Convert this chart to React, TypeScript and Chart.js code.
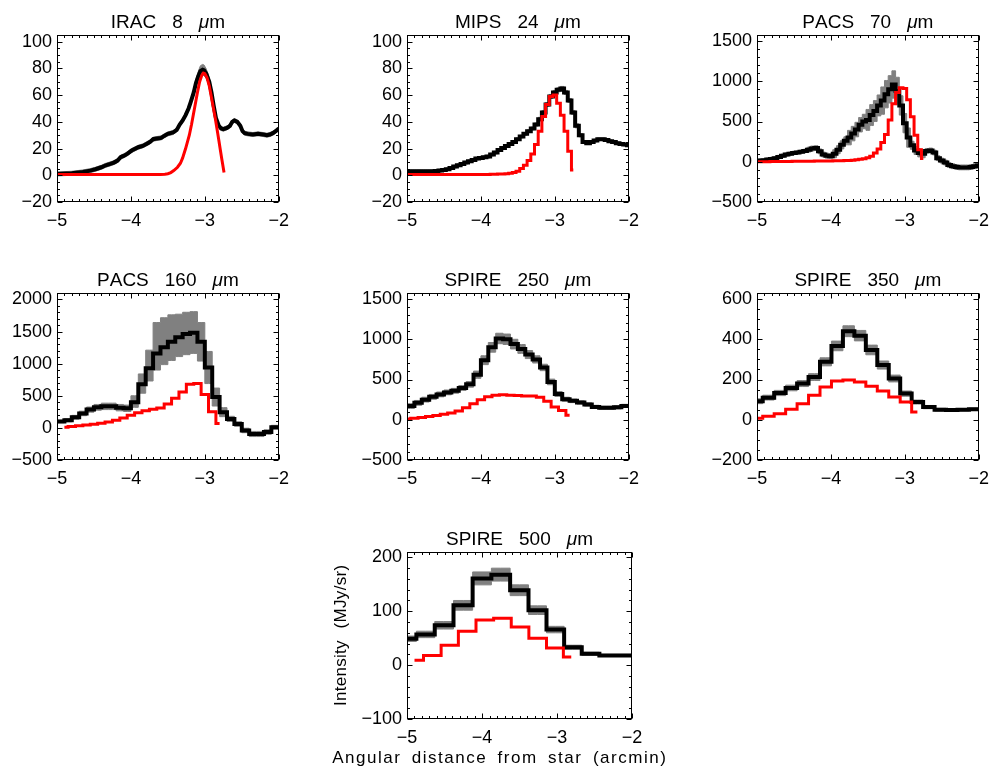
import React, { useEffect, useRef } from "react";
import { Chart, registerables } from "chart.js";

Chart.register(...registerables);

const FONT = "'Liberation Sans', Arial, Helvetica, sans-serif";
const GRAY = "#808080";
const RED = "#ff0000";

// ---------------- data ----------------
const xTicks = [-5, -4, -3, -2];
const unitWord = "m"; // preceded by italic mu

// IRAC 8 um
const iracTitle = ["IRAC", "8"];
const iracYTicks = [-20, 0, 20, 40, 60, 80, 100];
const iracX = [-5.0, -4.8, -4.65, -4.55, -4.48, -4.4, -4.34, -4.28, -4.23, -4.18, -4.14, -4.1, -4.05, -3.99, -3.9, -3.84, -3.79, -3.74, -3.7, -3.65, -3.59, -3.55, -3.5, -3.43, -3.38, -3.34, -3.3, -3.26, -3.22, -3.19, -3.15, -3.12, -3.09, -3.06, -3.03, -3.01, -2.98, -2.94, -2.91, -2.88, -2.85, -2.81, -2.78, -2.75, -2.7, -2.66, -2.63, -2.6, -2.56, -2.52, -2.49, -2.46, -2.42, -2.35, -2.28, -2.21, -2.16, -2.12, -2.08, -2.04, -2.0];
const iracBlack = [1, 1.5, 2.5, 3.5, 4.5, 6, 7.5, 8.5, 9.5, 11, 13.5, 14.5, 16, 18.5, 21, 22, 23.5, 25, 27, 27.5, 28, 29.5, 31, 32, 34, 38, 41, 45, 50, 55, 62, 69, 74, 78, 79, 78.5, 76, 70, 62, 52, 43, 37, 35, 34.5, 35.5, 37, 40, 41, 40, 37, 33, 31.5, 31, 30.5, 31, 30.5, 30, 30.5, 31.5, 33, 35];
const iracErr = [1.5, 1.5, 1.5, 1.5, 1.5, 1.5, 1.5, 1.5, 1.5, 1.5, 1.5, 1.5, 1.5, 1.5, 1.5, 1.5, 1.5, 1.5, 1.5, 1.5, 1.5, 1.5, 1.5, 1.5, 1.5, 1.5, 1.5, 1.5, 1.5, 1.5, 2.5, 3, 3.5, 4, 4, 4, 3.5, 3, 2.5, 2, 1.5, 1.5, 1.5, 1.5, 1.5, 1.5, 1.5, 1.5, 1.5, 1.5, 1.5, 1.5, 1.5, 1.5, 1.5, 1.5, 1.5, 1.5, 1.5, 1.5, 1.5];
const iracRedX = [-5.0, -4.5, -4.0, -3.7, -3.6, -3.54, -3.5, -3.46, -3.42, -3.37, -3.33, -3.3, -3.26, -3.21, -3.18, -3.15, -3.12, -3.1, -3.07, -3.04, -3.02, -3.0, -2.97, -2.94, -2.92, -2.89, -2.86, -2.83, -2.81, -2.79, -2.77, -2.74];
const iracRed = [0.5, 0.5, 0.5, 0.5, 0.6, 0.8, 1.2, 2, 3.5, 6, 9, 13, 20, 30, 38, 47, 56, 62, 70, 75, 76.5, 76, 73, 67, 61, 52, 43, 33, 26, 19, 12, 2];

// MIPS 24 um
const mipsTitle = ["MIPS", "24"];
const mipsYTicks = [-20, 0, 20, 40, 60, 80, 100];
const mipsX = [-5.0, -4.95, -4.9, -4.85, -4.8, -4.75, -4.7, -4.65, -4.6, -4.55, -4.5, -4.45, -4.4, -4.35, -4.3, -4.25, -4.2, -4.15, -4.1, -4.05, -4.0, -3.95, -3.9, -3.85, -3.8, -3.75, -3.7, -3.65, -3.6, -3.55, -3.5, -3.45, -3.4, -3.35, -3.3, -3.25, -3.2, -3.15, -3.1, -3.05, -3.0, -2.95, -2.9, -2.85, -2.8, -2.75, -2.7, -2.65, -2.6, -2.55, -2.5, -2.45, -2.4, -2.35, -2.3, -2.25, -2.2, -2.15, -2.1, -2.05, -2.0];
const mipsBlack = [3, 3, 3, 3, 3, 3, 3, 3, 3.2, 3.5, 4, 4.5, 5.5, 6.5, 7.5, 8.5, 9.5, 10.5, 11.5, 12.5, 13, 13.5, 14, 15.5, 17, 19, 20.5, 22, 23.5, 25, 27, 29, 31, 33, 35, 38, 42, 47, 53, 59, 62, 64, 65, 62, 56, 47, 37, 30, 25, 24, 25, 26, 27, 27, 26.5, 25.5, 25, 24, 23.5, 23, 22.5];
const mipsErr = [1, 1, 1, 1, 1, 1, 1, 1, 1, 1, 1, 1, 1, 1, 1, 1, 1, 1, 1, 1, 1, 1, 1, 1, 1, 1, 1, 1, 1, 1, 1, 1, 1, 1, 1, 1.2, 1.4, 1.5, 1.5, 1.5, 1.5, 1.5, 1.5, 1.5, 1.5, 1.5, 1.5, 1.2, 1, 1, 1, 1, 1, 1, 1, 1, 1, 1, 1, 1, 1];
const mipsRedX = [-5.0, -4.95, -4.9, -4.85, -4.8, -4.75, -4.7, -4.65, -4.6, -4.55, -4.5, -4.45, -4.4, -4.35, -4.3, -4.25, -4.2, -4.15, -4.1, -4.05, -4.0, -3.95, -3.9, -3.85, -3.8, -3.75, -3.7, -3.65, -3.6, -3.55, -3.5, -3.45, -3.4, -3.35, -3.3, -3.25, -3.2, -3.15, -3.1, -3.05, -3.0, -2.95, -2.9, -2.85, -2.8, -2.75];
const mipsRed = [0.5, 0.5, 0.5, 0.5, 0.5, 0.5, 0.5, 0.5, 0.5, 0.5, 0.5, 0.5, 0.5, 0.5, 0.5, 0.5, 0.5, 0.5, 0.5, 0.5, 0.5, 0.6, 0.6, 0.7, 0.8, 0.9, 1, 1.2, 1.5, 2, 3, 5, 7.5, 11, 16, 23, 33, 44, 53, 59, 60, 54, 45, 33, 18, 4];

// PACS 70 um
const p70Title = ["PACS", "70"];
const p70YTicks = [-500, 0, 500, 1000, 1500];
const p70X = [-5.0, -4.95, -4.9, -4.85, -4.8, -4.75, -4.7, -4.65, -4.6, -4.55, -4.5, -4.45, -4.4, -4.35, -4.3, -4.25, -4.2, -4.15, -4.1, -4.05, -4.0, -3.95, -3.9, -3.85, -3.8, -3.75, -3.7, -3.65, -3.6, -3.55, -3.5, -3.45, -3.4, -3.35, -3.3, -3.25, -3.2, -3.15, -3.1, -3.05, -3.0, -2.95, -2.9, -2.85, -2.8, -2.75, -2.7, -2.65, -2.6, -2.55, -2.5, -2.45, -2.4, -2.35, -2.3, -2.25, -2.2, -2.15, -2.1, -2.05, -2.0];
const p70Black = [10, 15, 20, 27, 35, 45, 60, 75, 90, 100, 110, 115, 125, 135, 150, 165, 170, 130, 90, 75, 70, 100, 150, 210, 260, 300, 350, 400, 460, 500, 520, 580, 630, 700, 760, 840, 900, 960, 880, 700, 480, 300, 205, 140, 110, 100, 135, 140, 115, 45, 15, -10, -40, -55, -65, -70, -70, -70, -65, -55, -45];
const p70Err = [20, 20, 20, 20, 20, 20, 20, 20, 20, 20, 20, 20, 20, 20, 30, 30, 30, 30, 30, 30, 30, 50, 50, 50, 50, 90, 90, 90, 90, 90, 130, 130, 130, 130, 170, 170, 170, 170, 170, 120, 120, 120, 50, 50, 50, 50, 30, 30, 30, 30, 30, 30, 30, 30, 30, 30, 30, 30, 30, 30, 30];
const p70RedX = [-5.0, -4.95, -4.9, -4.85, -4.8, -4.75, -4.7, -4.65, -4.6, -4.55, -4.5, -4.45, -4.4, -4.35, -4.3, -4.25, -4.2, -4.15, -4.1, -4.05, -4.0, -3.95, -3.9, -3.85, -3.8, -3.75, -3.7, -3.65, -3.6, -3.55, -3.5, -3.45, -3.4, -3.35, -3.3, -3.25, -3.2, -3.15, -3.1, -3.05, -3.0, -2.95, -2.9, -2.85, -2.8, -2.75];
const p70Red = [0, 0, 1, 1, 2, 2, 3, 3, 4, 4, 5, 5, 6, 6, 7, 7, 8, 8, 9, 9, 10, 11, 12, 13, 15, 17, 20, 24, 30, 38, 50, 70, 110, 160, 240, 340, 520, 720, 860, 920, 910, 770, 560, 330, 150, 40];

// PACS 160 um
const p160Title = ["PACS", "160"];
const p160YTicks = [-500, 0, 500, 1000, 1500, 2000];
const p160X = [-5.05, -4.95, -4.85, -4.75, -4.65, -4.55, -4.45, -4.35, -4.25, -4.15, -4.05, -3.95, -3.85, -3.75, -3.65, -3.55, -3.45, -3.35, -3.25, -3.15, -3.05, -2.95, -2.85, -2.75, -2.65, -2.55, -2.45, -2.35, -2.25, -2.15, -2.05, -1.95];
const p160Black = [100, 100, 120, 165, 225, 285, 320, 335, 335, 315, 305, 400, 680, 930, 1160, 1255, 1340, 1410, 1460, 1480, 1340, 940, 480, 245, 140, 60, -40, -95, -95, -65, 10, 10];
const p160ErrHi = [20, 20, 25, 30, 35, 40, 45, 50, 50, 50, 50, 100, 160, 280, 480, 460, 420, 360, 340, 330, 300, 250, 140, 70, 40, 35, 35, 40, 40, 35, 30, 30];
const p160ErrLo = [20, 20, 25, 30, 35, 40, 45, 50, 50, 50, 50, 80, 140, 200, 260, 270, 290, 300, 320, 320, 300, 250, 140, 70, 40, 35, 35, 40, 40, 35, 30, 30];
const p160RedX = [-4.9, -4.8, -4.7, -4.6, -4.5, -4.4, -4.3, -4.2, -4.1, -4.0, -3.9, -3.8, -3.7, -3.6, -3.5, -3.4, -3.3, -3.2, -3.1, -3.0, -2.9, -2.8];
const p160Red = [10, 20, 32, 45, 58, 72, 90, 120, 155, 195, 235, 265, 290, 310, 370, 460, 560, 680, 690, 520, 250, 70];

// SPIRE 250 um
const s250Title = ["SPIRE", "250"];
const s250YTicks = [-500, 0, 500, 1000, 1500];
const s250X = [-5.05, -4.95, -4.85, -4.75, -4.65, -4.55, -4.45, -4.35, -4.25, -4.15, -4.05, -3.95, -3.85, -3.75, -3.65, -3.55, -3.45, -3.35, -3.25, -3.15, -3.05, -2.95, -2.85, -2.75, -2.65, -2.55, -2.45, -2.35, -2.25, -2.15, -2.05, -1.95];
const s250Black = [170, 170, 210, 250, 285, 315, 340, 360, 395, 440, 560, 740, 900, 1010, 1000, 940, 880, 810, 750, 650, 470, 320, 255, 235, 215, 190, 160, 148, 148, 155, 172, 172];
const s250Err = [30, 30, 30, 30, 30, 30, 30, 30, 30, 35, 45, 55, 60, 65, 65, 60, 55, 50, 45, 40, 35, 30, 25, 22, 20, 20, 20, 20, 20, 20, 20, 20];
const s250RedX = [-5.0, -4.9, -4.8, -4.7, -4.6, -4.5, -4.4, -4.3, -4.2, -4.1, -4.0, -3.9, -3.8, -3.7, -3.6, -3.5, -3.4, -3.3, -3.2, -3.1, -3.0, -2.9, -2.8];
const s250Red = [10, 18, 28, 40, 52, 68, 85, 110, 150, 200, 250, 285, 305, 310, 305, 300, 295, 295, 280, 230, 160, 115, 55];

// SPIRE 350 um
const s350Title = ["SPIRE", "350"];
const s350YTicks = [-200, 0, 200, 400, 600];
const s350X = [-5.0, -4.845, -4.69, -4.535, -4.38, -4.225, -4.07, -3.915, -3.76, -3.605, -3.45, -3.295, -3.14, -2.985, -2.83, -2.675, -2.52, -2.365, -2.21, -2.055, -1.9];
const s350Black = [92, 110, 133, 158, 180, 212, 288, 367, 440, 418, 347, 272, 205, 130, 88, 63, 50, 48, 50, 52, 52];
const s350Err = [12, 12, 13, 14, 15, 17, 20, 24, 27, 26, 24, 20, 17, 13, 10, 8, 7, 6, 6, 6, 6];
const s350RedX = [-5.0, -4.845, -4.69, -4.535, -4.38, -4.225, -4.07, -3.915, -3.76, -3.605, -3.45, -3.295, -3.14, -2.985, -2.83];
const s350Red = [8, 17, 30, 52, 80, 122, 163, 193, 197, 188, 167, 143, 113, 88, 38];

// SPIRE 500 um
const s500Title = ["SPIRE", "500"];
const s500YTicks = [-100, 0, 100, 200];
const s500X = [-5.0, -4.75, -4.51, -4.25, -4.0, -3.75, -3.5, -3.26, -3.02, -2.79, -2.55, -2.32, -2.1, -1.87];
const s500Black = [49, 57, 74, 111, 161, 168, 139, 102, 66, 33, 21, 18, 18, 18];
const s500Err = [5, 6, 7, 9, 12, 12, 10, 8, 6, 4, 3, 2, 2, 2];
const s500RedX = [-4.9, -4.66, -4.43, -4.2, -3.96, -3.73, -3.49, -3.26, -3.02, -2.81];
const s500Red = [9, 18, 37, 63, 84, 87, 71, 50, 32, 15];

const xAxisTitle = ["Angular", "distance", "from", "star", "(arcmin)"];
const yAxisTitle = ["Intensity", "(MJy/sr)"];

// ---------------- layout ----------------
const COLS = [57, 407, 757];
const ROWS = [35, 293, 552];
const FW = 225;
const FH = 167;

type PanelDef = {
  title: string[];
  col: number;
  row: number;
  yMin: number;
  yMax: number;
  yTicks: number[];
  yMinor: number;
  stepped: false | "middle";
  bx: number[];
  by: number[];
  bHi: number[];
  bLo: number[];
  rx: number[];
  ry: number[];
  axisTitles?: boolean;
};

const PANELS: PanelDef[] = [
  { title: iracTitle, col: 0, row: 0, yMin: -20, yMax: 105, yTicks: iracYTicks, yMinor: 5, stepped: false, bx: iracX, by: iracBlack, bHi: iracErr, bLo: iracErr, rx: iracRedX, ry: iracRed },
  { title: mipsTitle, col: 1, row: 0, yMin: -20, yMax: 105, yTicks: mipsYTicks, yMinor: 5, stepped: "middle", bx: mipsX, by: mipsBlack, bHi: mipsErr, bLo: mipsErr, rx: mipsRedX, ry: mipsRed },
  { title: p70Title, col: 2, row: 0, yMin: -500, yMax: 1575, yTicks: p70YTicks, yMinor: 100, stepped: "middle", bx: p70X, by: p70Black, bHi: p70Err, bLo: p70Err, rx: p70RedX, ry: p70Red },
  { title: p160Title, col: 0, row: 1, yMin: -500, yMax: 2100, yTicks: p160YTicks, yMinor: 100, stepped: "middle", bx: p160X, by: p160Black, bHi: p160ErrHi, bLo: p160ErrLo, rx: p160RedX, ry: p160Red },
  { title: s250Title, col: 1, row: 1, yMin: -500, yMax: 1575, yTicks: s250YTicks, yMinor: 100, stepped: "middle", bx: s250X, by: s250Black, bHi: s250Err, bLo: s250Err, rx: s250RedX, ry: s250Red },
  { title: s350Title, col: 2, row: 1, yMin: -200, yMax: 630, yTicks: s350YTicks, yMinor: 50, stepped: "middle", bx: s350X, by: s350Black, bHi: s350Err, bLo: s350Err, rx: s350RedX, ry: s350Red },
  { title: s500Title, col: 1, row: 2, yMin: -100, yMax: 210, yTicks: s500YTicks, yMinor: 20, stepped: "middle", bx: s500X, by: s500Black, bHi: s500Err, bLo: s500Err, rx: s500RedX, ry: s500Red, axisTitles: true },
];

const fmt = (v: number) => (v < 0 ? "\u2212" + Math.abs(v) : String(v));

function measureRun(ctx: CanvasRenderingContext2D, t: string, ls: number) {
  let w = 0;
  for (const ch of t) w += ctx.measureText(ch).width + ls;
  return w - ls;
}
function drawRun(ctx: CanvasRenderingContext2D, t: string, x: number, y: number, ls: number) {
  for (const ch of t) {
    ctx.fillText(ch, x, y);
    x += ctx.measureText(ch).width + ls;
  }
  return x - ls;
}
type Seg = { t: string; it?: boolean };
function drawWords(ctx: CanvasRenderingContext2D, words: Seg[][], cx: number, baseline: number, size: number, ls: number, gap: number) {
  const fontOf = (s: Seg) => `${s.it ? "italic " : ""}${size}px ${FONT}`;
  let total = 0;
  words.forEach((w, i) => {
    w.forEach((s, j) => {
      ctx.font = fontOf(s);
      total += measureRun(ctx, s.t, ls) + (j > 0 ? ls : 0);
    });
    if (i > 0) total += gap;
  });
  let x = cx - total / 2;
  words.forEach((w, i) => {
    if (i > 0) x += gap;
    w.forEach((s, j) => {
      if (j > 0) x += ls;
      ctx.font = fontOf(s);
      x = drawRun(ctx, s.t, x, baseline, ls);
    });
  });
}

const idlPlugin = {
  id: "idl",
  afterDatasetsDraw(chart: any, _a: any, opts: any) {
    const { ctx, chartArea: a, scales } = chart;
    const xs = scales.x;
    const ys = scales.y;
    ctx.save();
    ctx.strokeStyle = "#000";
    ctx.lineWidth = 1;
    const l = Math.round(a.left) + 0.5;
    const r = Math.round(a.right) - 0.5;
    const t = Math.round(a.top) + 0.5;
    const b = Math.round(a.bottom) - 0.5;
    ctx.strokeRect(l, t, r - l, b - t);
    const MAJ = 5;
    const MIN = 2.5;
    ctx.beginPath();
    const xn = Math.round((xs.max - xs.min) / opts.xMinor);
    for (let k = 0; k <= xn; k++) {
      const v = xs.min + k * opts.xMinor;
      const isMaj = opts.xMajor.some((m: number) => Math.abs(m - v) < 1e-6);
      const len = isMaj ? MAJ : MIN;
      const px = Math.round(xs.getPixelForValue(v)) + 0.5;
      ctx.moveTo(px, b);
      ctx.lineTo(px, b - len);
      ctx.moveTo(px, t);
      ctx.lineTo(px, t + len);
    }
    const start = Math.ceil(ys.min / opts.yMinor - 1e-9);
    const end = Math.floor(ys.max / opts.yMinor + 1e-9);
    for (let k = start; k <= end; k++) {
      const v = k * opts.yMinor;
      const isMaj = opts.yMajor.some((m: number) => Math.abs(m - v) < 1e-6);
      const len = isMaj ? MAJ : MIN;
      const py = Math.round(ys.getPixelForValue(v)) + 0.5;
      ctx.moveTo(l, py);
      ctx.lineTo(l + len, py);
      ctx.moveTo(r, py);
      ctx.lineTo(r - len, py);
    }
    ctx.stroke();
    ctx.restore();
  },
  afterDraw(chart: any, _a: any, opts: any) {
    const { ctx, chartArea: a } = chart;
    ctx.save();
    ctx.fillStyle = "#000";
    ctx.textBaseline = "alphabetic";
    ctx.textAlign = "left";
    const cx = (a.left + a.right) / 2;
    const words: Seg[][] = opts.title.map((w: string) => [{ t: w }]);
    words.push([{ t: "\u03bc", it: true }, { t: unitWord }]);
    drawWords(ctx, words, cx, a.top - 7, 19, 0, 16);
    if (opts.axisTitles) {
      drawWords(ctx, xAxisTitle.map((w) => [{ t: w }]), a.left + 92, a.bottom + 44, 17, 1.5, 12);
      ctx.save();
      ctx.translate(a.left - 61, (a.top + a.bottom) / 2);
      ctx.rotate(-Math.PI / 2);
      drawWords(ctx, yAxisTitle.map((w) => [{ t: w }]), 0, 0, 17, 0.3, 12);
      ctx.restore();
    }
    ctx.restore();
  },
};

const PAD_T = 40;

function Panel({ def }: { def: PanelDef }) {
  const ref = useRef<HTMLCanvasElement>(null);
  const padL = def.axisTitles ? 100 : 70;
  const padR = def.axisTitles ? 50 : 15;
  const padB = def.axisTitles ? 55 : 40;
  const W = FW + padL + padR;
  const H = FH + PAD_T + padB;
  useEffect(() => {
    const pts = (xs: number[], ys: number[]) => xs.map((x, i) => ({ x, y: ys[i] }));
    const hi = def.bx.map((x, i) => ({ x, y: def.by[i] + def.bHi[i] }));
    const lo = def.bx.map((x, i) => ({ x, y: def.by[i] - def.bLo[i] }));
    const common = { pointRadius: 0, tension: 0, clip: 0, stepped: def.stepped, borderJoinStyle: "miter" as const, borderCapStyle: "butt" as const };
    const chart = new Chart(ref.current!, {
      type: "line",
      data: {
        datasets: [
          { ...common, label: "model", data: pts(def.rx, def.ry), borderColor: RED, borderWidth: 3, fill: false, order: 0 },
          { ...common, label: "observed", data: pts(def.bx, def.by), borderColor: "#000", borderWidth: 4, fill: false, order: 1 },
          { ...common, label: "upper", data: hi, borderColor: GRAY, borderWidth: 1, fill: false, order: 3 },
          { ...common, label: "lower", data: lo, borderColor: GRAY, borderWidth: 1, fill: "-1", backgroundColor: GRAY, order: 2 },
        ] as any,
      },
      options: {
        animation: false,
        responsive: false,
        devicePixelRatio: 1,
        events: [],
        layout: { padding: { top: PAD_T, right: padR, left: 0, bottom: 0 } },
        plugins: {
          legend: { display: false },
          tooltip: { enabled: false },
          title: { display: false },
          idl: { xMajor: xTicks, xMinor: 0.1, yMajor: def.yTicks, yMinor: def.yMinor, title: def.title, axisTitles: !!def.axisTitles },
        } as any,
        scales: {
          x: {
            type: "linear",
            min: -5,
            max: -2,
            grid: { display: false, drawTicks: false },
            border: { display: false },
            ticks: { color: "#000", font: { family: FONT, size: 18 }, padding: 8, autoSkip: false, maxRotation: 0, callback: (v: any) => fmt(Number(v)) },
            afterBuildTicks: (s: any) => { s.ticks = xTicks.map((v) => ({ value: v })); },
            afterFit: (s: any) => { s.height = padB; },
          },
          y: {
            type: "linear",
            min: def.yMin,
            max: def.yMax,
            grid: { display: false, drawTicks: false },
            border: { display: false },
            ticks: { color: "#000", font: { family: FONT, size: 18 }, padding: 5, autoSkip: false, callback: (v: any) => fmt(Number(v)) },
            afterBuildTicks: (s: any) => { s.ticks = def.yTicks.map((v) => ({ value: v })); },
            afterFit: (s: any) => { s.width = padL; },
          },
        },
      } as any,
      plugins: [idlPlugin as any],
    });
    return () => chart.destroy();
  }, []);
  const left = COLS[def.col] - padL;
  const top = ROWS[def.row] - PAD_T;
  return <canvas ref={ref} width={W} height={H} style={{ position: "absolute", left, top, width: W, height: H }} />;
}

export default function App() {
  return (
    <div style={{ position: "absolute", left: 0, top: 0, width: 996, height: 769, overflow: "hidden", background: "#fff" }}>
      {PANELS.map((p, i) => (
        <Panel key={i} def={p} />
      ))}
    </div>
  );
}
